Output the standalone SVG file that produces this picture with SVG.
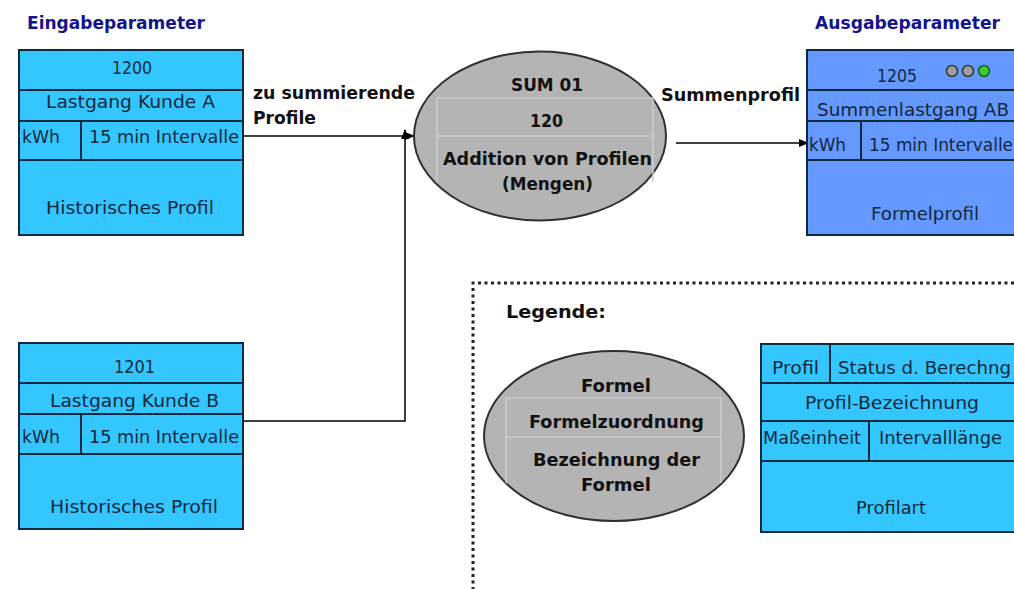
<svg xmlns="http://www.w3.org/2000/svg" width="1014" height="589" viewBox="0 0 1014 589">
<defs>
<style>
text{font-family:"DejaVu Sans","Liberation Sans",Arial,sans-serif;fill:#10283c;font-size:17px;text-anchor:start}
.b{fill:#111;font-weight:bold;font-size:17.500px}
.h{fill:#14148c;font-weight:bold;font-size:17.500px}
.box{fill:#33c6ff;stroke:#0c2a40;stroke-width:2}
.boxo{fill:#6699ff;stroke:#0c2a40;stroke-width:2}
.l{stroke:#0c2a40;stroke-width:2;fill:none}
.ell{fill:#b4b4b4;stroke:#303030;stroke-width:2}
.cell{fill:none;stroke:#cccccc;stroke-width:1.5}
.con{stroke:#000;stroke-width:1.5;fill:none}
.bulb{fill:#a0a0a0;stroke:#333;stroke-width:1.5}
</style>
<marker id="arr" markerWidth="10" markerHeight="8" refX="9" refY="4" orient="auto" markerUnits="userSpaceOnUse"><path d="M0 0L10 4L0 8Z" fill="#000"/></marker>
</defs>
<text class="h" x="27" y="29" textLength="178" lengthAdjust="spacingAndGlyphs">Eingabeparameter</text>
<text class="h" x="815" y="29" textLength="185" lengthAdjust="spacingAndGlyphs">Ausgabeparameter</text>
<g id="connectors">
<path class="con" d="M244 136H414" marker-end="url(#arr)"/>
<path class="con" d="M244 421H405V130" marker-end="url(#arr)"/>
<path class="con" d="M676 143H808" marker-end="url(#arr)"/>
</g>
<g id="node-1200">
<rect class="box" x="19" y="50" width="224" height="185"/>
<path class="l" d="M19 90H243M19 121H243M19 160H243M81 121V160"/>
<text x="112" y="74" textLength="40" lengthAdjust="spacingAndGlyphs">1200</text>
<text x="46" y="108" textLength="169" lengthAdjust="spacingAndGlyphs">Lastgang Kunde A</text>
<text x="22" y="143" textLength="38" lengthAdjust="spacingAndGlyphs">kWh</text>
<text x="89" y="143" textLength="150" lengthAdjust="spacingAndGlyphs">15 min Intervalle</text>
<text x="46" y="214" textLength="168" lengthAdjust="spacingAndGlyphs">Historisches Profil</text>
</g>
<g id="node-1201">
<rect class="box" x="19" y="343" width="224" height="186"/>
<path class="l" d="M19 383H243M19 414H243M19 454H243M81 414V454"/>
<text x="114" y="373" textLength="41" lengthAdjust="spacingAndGlyphs">1201</text>
<text x="50" y="407" textLength="169" lengthAdjust="spacingAndGlyphs">Lastgang Kunde B</text>
<text x="22" y="443" textLength="38" lengthAdjust="spacingAndGlyphs">kWh</text>
<text x="89" y="443" textLength="150" lengthAdjust="spacingAndGlyphs">15 min Intervalle</text>
<text x="50" y="513" textLength="168" lengthAdjust="spacingAndGlyphs">Historisches Profil</text>
</g>
<g id="node-sum">
<ellipse class="ell" cx="540" cy="136" rx="126" ry="84.500"/>
<rect class="cell" x="437" y="98" width="216" height="38"/>
<path class="cell" d="M437 136V182M653 136V182"/>
<text class="b" x="511" y="91" textLength="72" lengthAdjust="spacingAndGlyphs">SUM 01</text>
<text class="b" x="530" y="127" textLength="33" lengthAdjust="spacingAndGlyphs">120</text>
<text class="b" x="443" y="165" textLength="209" lengthAdjust="spacingAndGlyphs">Addition von Profilen</text>
<text class="b" x="502" y="190" textLength="91" lengthAdjust="spacingAndGlyphs">(Mengen)</text>
</g>
<text class="b" x="253" y="99" textLength="162" lengthAdjust="spacingAndGlyphs">zu summierende</text>
<text class="b" x="253" y="124" textLength="63" lengthAdjust="spacingAndGlyphs">Profile</text>
<text class="b" x="661" y="101" textLength="139" lengthAdjust="spacingAndGlyphs">Summenprofil</text>
<g id="node-1205">
<path class="boxo" d="M1016 50H807V235H1016"/>
<path class="l" d="M807 90H1014M807 121H1014M807 160H1014M861 121V160"/>
<text x="877" y="82" textLength="40" lengthAdjust="spacingAndGlyphs">1205</text>
<circle class="bulb" cx="952" cy="71" r="5.500"/><circle class="bulb" cx="968" cy="71" r="5.500"/><circle cx="984" cy="71" r="5.500" fill="#33cc33" stroke="#225522" stroke-width="1.500"/>
<text x="817" y="116" textLength="192" lengthAdjust="spacingAndGlyphs">Summenlastgang AB</text>
<text x="809" y="151" textLength="37" lengthAdjust="spacingAndGlyphs">kWh</text>
<text x="869" y="151" textLength="144" lengthAdjust="spacingAndGlyphs">15 min Intervalle</text>
<text x="871" y="220" textLength="108" lengthAdjust="spacingAndGlyphs">Formelprofil</text>
</g>
<g id="legend">
<path d="M1014 283H473V589" fill="none" stroke="#222" stroke-width="3" stroke-dasharray="3 3.500"/>
<text class="b" x="506" y="318" textLength="100" lengthAdjust="spacingAndGlyphs">Legende:</text>
</g>
<g id="legend-formula">
<ellipse class="ell" cx="614" cy="436" rx="130" ry="85"/>
<rect class="cell" x="506" y="398" width="215" height="39"/>
<path class="cell" d="M506 437V483M721 437V483"/>
<text class="b" x="581" y="392" textLength="70" lengthAdjust="spacingAndGlyphs">Formel</text>
<text class="b" x="529" y="428" textLength="175" lengthAdjust="spacingAndGlyphs">Formelzuordnung</text>
<text class="b" x="533" y="466" textLength="167" lengthAdjust="spacingAndGlyphs">Bezeichnung der</text>
<text class="b" x="581" y="491" textLength="70" lengthAdjust="spacingAndGlyphs">Formel</text>
</g>
<g id="legend-profile">
<path class="box" d="M1016 344H761V532H1016"/>
<path class="l" d="M761 383H1014M761 421H1014M761 461H1014M830 344V383M869 421V461"/>
<text x="772" y="374" textLength="47" lengthAdjust="spacingAndGlyphs">Profil</text>
<text x="838" y="374" textLength="173" lengthAdjust="spacingAndGlyphs">Status d. Berechng</text>
<text x="805" y="409" textLength="174" lengthAdjust="spacingAndGlyphs">Profil-Bezeichnung</text>
<text x="763" y="444" textLength="98" lengthAdjust="spacingAndGlyphs">Maßeinheit</text>
<text x="879" y="444" textLength="123" lengthAdjust="spacingAndGlyphs">Intervalllänge</text>
<text x="856" y="514" textLength="70" lengthAdjust="spacingAndGlyphs">Profilart</text>
</g>
</svg>
